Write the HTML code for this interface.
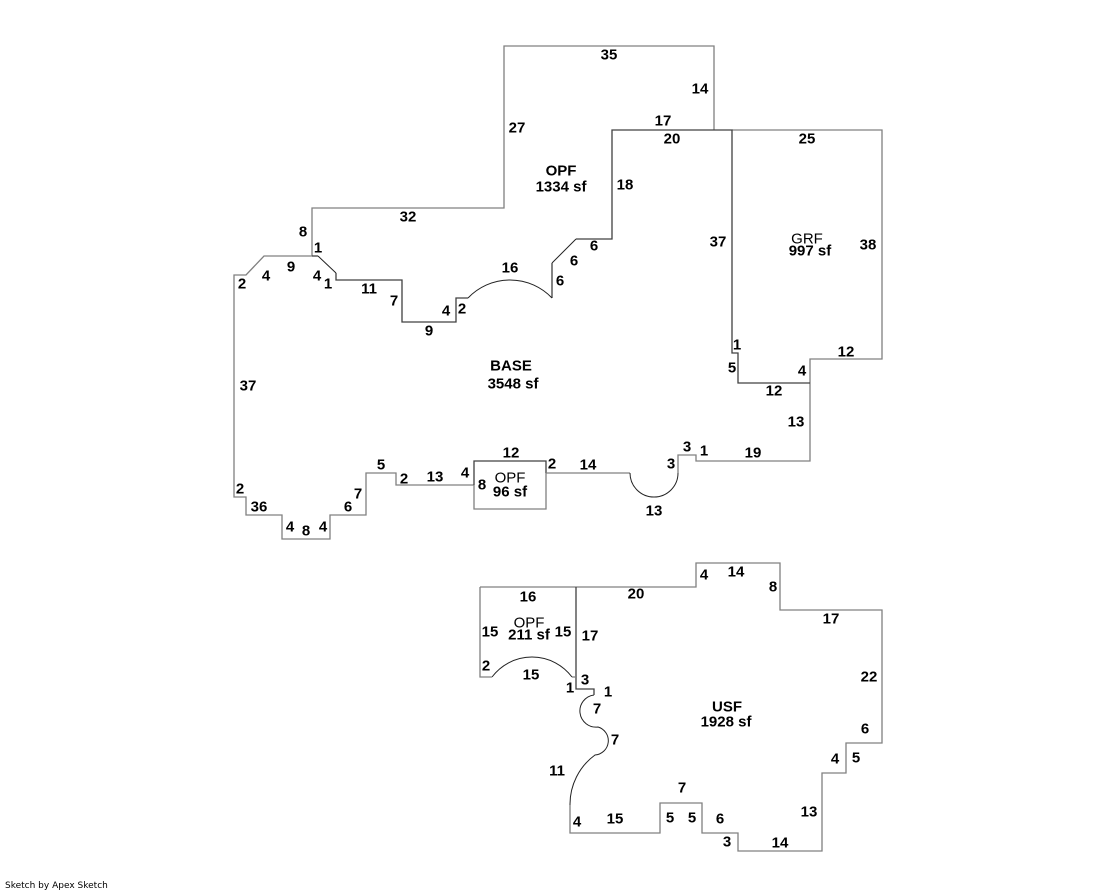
<!DOCTYPE html>
<html>
<head>
<meta charset="utf-8">
<style>
  html, body { margin:0; padding:0; background:#fff; }
  body { width:1119px; height:893px; overflow:hidden; position:relative; }
  svg { position:absolute; left:0; top:0; }
  text { font-family:"Liberation Sans", Arial, sans-serif; font-weight:bold; font-size:15px; fill:#000; }
  .g { fill:none; stroke:#808080; stroke-width:1.3; }
  .d { fill:none; stroke:#404040; stroke-width:1.3; }
  .a { fill:none; stroke:#222; stroke-width:1; }
  .foot { position:absolute; left:5px; top:881px; font-family:"DejaVu Sans", sans-serif; font-size:9px; color:#000; }
</style>
</head>
<body>
<svg width="1119" height="893" viewBox="0 0 1119 893" xmlns="http://www.w3.org/2000/svg">
  <!-- Upper OPF outer -->
  <path class="g" d="M312,256 L312,208 L504,208 L504,46 L714,46 L714,130"/>
  <path class="d" d="M714,130 L612,130 L612,239 L576,239"/>
  <path class="a" d="M576,239 L552,263"/>
  <path class="d" d="M552,263 L552,298"/>
  <path class="a" d="M552,298 A58,58 0 0 0 468,298"/>
  <path class="d" d="M468,298 L456,298 L456,322 L402,322 L402,280 L336,280 L336,273"/>
  <path class="a" d="M336,273 L318,256"/>
  <path class="d" d="M318,256 L312,256"/>
  <!-- Base outer -->
  <path class="g" d="M312,256 L264,256 L246,275 L234,275 L234,497 L246,497 L246,515 L282,515 L282,539 L330,539 L330,515 L366,515 L366,473 L396,473 L396,485 L474,485"/>
  <path class="d" d="M474,485 L474,461 L546,461 L546,473"/>
  <path class="g" d="M474,485 L474,509 L546,509 L546,473"/>
  <path class="g" d="M546,473 L630,473"/>
  <path class="a" d="M630,473 A24,24 0 0 0 678,473"/>
  <path class="g" d="M678,473 L678,455 L696,455 L696,461 L810,461 L810,359 L882,359 L882,130 L732,130"/>
  <path class="d" d="M714,130 L732,130 L732,353 L738,353 L738,383 L810,383"/>

  <!-- Lower building -->
  <path class="g" d="M480,587 L576,587 L696,587 L696,563 L780,563 L780,610 L882,610 L882,743 L846,743 L846,773 L822,773 L822,851 L738,851 L738,833 L702,833 L702,803 L660,803 L660,833 L570,833 L570,805"/>
  <path class="a" d="M594,695 A16.1,16.1 0 0 0 598,727 A14.3,14.3 0 0 1 595,755 A61,61 0 0 0 570,805"/>
  <path class="d" d="M576,587 L576,689 L594,689 L594,695"/>
  <path class="g" d="M576,677 L572,677"/>
  <path class="a" d="M572,677 A50,50 0 0 0 492,677"/>
  <path class="g" d="M492,677 L480,677 L480,587"/>

  <g text-anchor="middle" dominant-baseline="central">
    <!-- Upper OPF -->
    <text x="609" y="55">35</text>
    <text x="700" y="89">14</text>
    <text x="517" y="128">27</text>
    <text x="663" y="121">17</text>
    <text x="672" y="139">20</text>
    <text x="561" y="171">OPF</text>
    <text x="561" y="187">1334 sf</text>
    <text x="625" y="185">18</text>
    <text x="408" y="217">32</text>
    <text x="303" y="232">8</text>
    <text x="318" y="248">1</text>
    <text x="510" y="268">16</text>
    <text x="594" y="246">6</text>
    <text x="574" y="261">6</text>
    <text x="560" y="281">6</text>
    <!-- GRF -->
    <text x="807" y="139">25</text>
    <text x="718" y="242">37</text>
    <text x="807" y="239" style="font-weight:normal">GRF</text>
    <text x="810" y="251">997 sf</text>
    <text x="868" y="245">38</text>
    <text x="737" y="345">1</text>
    <text x="732" y="368">5</text>
    <text x="802" y="371">4</text>
    <text x="846" y="352">12</text>
    <text x="774" y="391">12</text>
    <text x="796" y="422">13</text>
    <!-- Base -->
    <text x="242" y="284">2</text>
    <text x="266" y="276">4</text>
    <text x="291" y="267">9</text>
    <text x="317" y="276">4</text>
    <text x="328" y="284">1</text>
    <text x="369" y="289">11</text>
    <text x="394" y="301">7</text>
    <text x="446" y="311">4</text>
    <text x="462" y="309">2</text>
    <text x="429" y="331">9</text>
    <text x="511" y="366">BASE</text>
    <text x="513" y="384">3548 sf</text>
    <text x="248" y="386">37</text>
    <text x="240" y="489">2</text>
    <text x="259" y="507">36</text>
    <text x="290" y="527">4</text>
    <text x="306" y="531">8</text>
    <text x="323" y="527">4</text>
    <text x="348" y="507">6</text>
    <text x="358" y="494">7</text>
    <text x="381" y="465">5</text>
    <text x="404" y="479">2</text>
    <text x="435" y="477">13</text>
    <text x="465" y="473">4</text>
    <text x="511" y="453">12</text>
    <text x="482" y="485">8</text>
    <text x="510" y="478" style="font-weight:normal">OPF</text>
    <text x="510" y="492">96 sf</text>
    <text x="552" y="464">2</text>
    <text x="588" y="465">14</text>
    <text x="654" y="511">13</text>
    <text x="671" y="464">3</text>
    <text x="687" y="447">3</text>
    <text x="704" y="451">1</text>
    <text x="753" y="453">19</text>
    <!-- Lower -->
    <text x="528" y="597">16</text>
    <text x="636" y="594">20</text>
    <text x="704" y="575">4</text>
    <text x="736" y="572">14</text>
    <text x="773" y="587">8</text>
    <text x="831" y="619">17</text>
    <text x="490" y="632">15</text>
    <text x="529" y="623" style="font-weight:normal">OPF</text>
    <text x="529" y="635">211 sf</text>
    <text x="563" y="632">15</text>
    <text x="590" y="636">17</text>
    <text x="486" y="666">2</text>
    <text x="531" y="675">15</text>
    <text x="585" y="680">3</text>
    <text x="570" y="688">1</text>
    <text x="608" y="692">1</text>
    <text x="869" y="677">22</text>
    <text x="727" y="707">USF</text>
    <text x="726" y="722">1928 sf</text>
    <text x="597" y="709">7</text>
    <text x="615" y="740">7</text>
    <text x="557" y="771">11</text>
    <text x="865" y="729">6</text>
    <text x="856" y="758">5</text>
    <text x="835" y="759">4</text>
    <text x="809" y="812">13</text>
    <text x="682" y="788">7</text>
    <text x="577" y="822">4</text>
    <text x="615" y="819">15</text>
    <text x="670" y="818">5</text>
    <text x="692" y="818">5</text>
    <text x="720" y="819">6</text>
    <text x="727" y="842">3</text>
    <text x="780" y="843">14</text>
  </g>
</svg>
<div class="foot">Sketch by Apex Sketch</div>
</body>
</html>
